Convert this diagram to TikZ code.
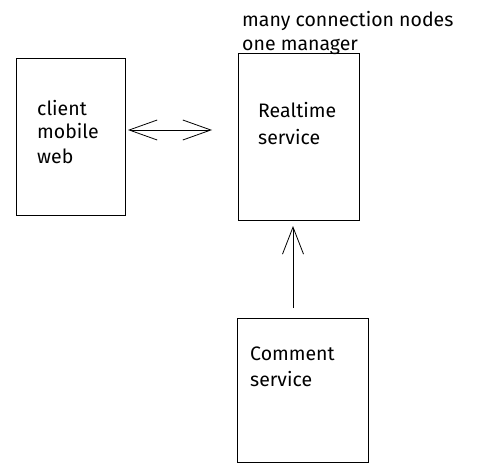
\documentclass[tikz,border=0pt]{standalone}
\usepackage{fontspec}
\setmainfont{Fira Sans}
\usetikzlibrary{arrows.meta}
\begin{document}
\begin{tikzpicture}[x=1pt,y=-1pt,
  box/.style={draw,line width=0.9pt,inner sep=0pt},
  lbl/.style={anchor=base west,inner sep=0pt,font=\fontsize{19.5}{22}\selectfont,align=left},
  tip/.style={Straight Barb[length=27pt,width=21pt,line width=0.8pt]},
  conn/.style={line width=0.8pt,-{Straight Barb[length=27pt,width=21pt,line width=0.8pt]}},
  dconn/.style={line width=0.8pt,{Straight Barb[length=28pt,width=20pt,line width=0.8pt]}-{Straight Barb[length=28pt,width=20pt,line width=0.8pt]}}]
\useasboundingbox (0,0) rectangle (479,476);
\node[box,minimum width=109pt,minimum height=157pt] (client) at (70.5,136.5) {};
\node[box,minimum width=121pt,minimum height=167pt] (rt) at (298.5,136.5) {};
\node[box,minimum width=131pt,minimum height=144pt] (cm) at (302.5,390) {};
\node[lbl] (tclient) at (37,116) {client};
\node[lbl] (tmobile) at (37,139) {mobile};
\node[lbl] (tweb) at (37,163) {web};
\node[lbl] (trt1) at (258,118) {Realtime};
\node[lbl] (trt2) at (258,144) {service};
\node[lbl] (tcm1) at (250,360) {Comment};
\node[lbl] (tcm2) at (250,386) {service};
\node[lbl] (tmany) at (242,27) {many connection nodes};
\node[lbl] (tone) at (242,51) {one manager};
\coordinate (al) at (128,130);
\coordinate (ar) at (212,130);
\draw[dconn] (al) -- (ar);
\coordinate (us) at (293,308);
\coordinate (ue) at (293,226);
\draw[conn] (us) -- (ue);
\end{tikzpicture}
\end{document}
